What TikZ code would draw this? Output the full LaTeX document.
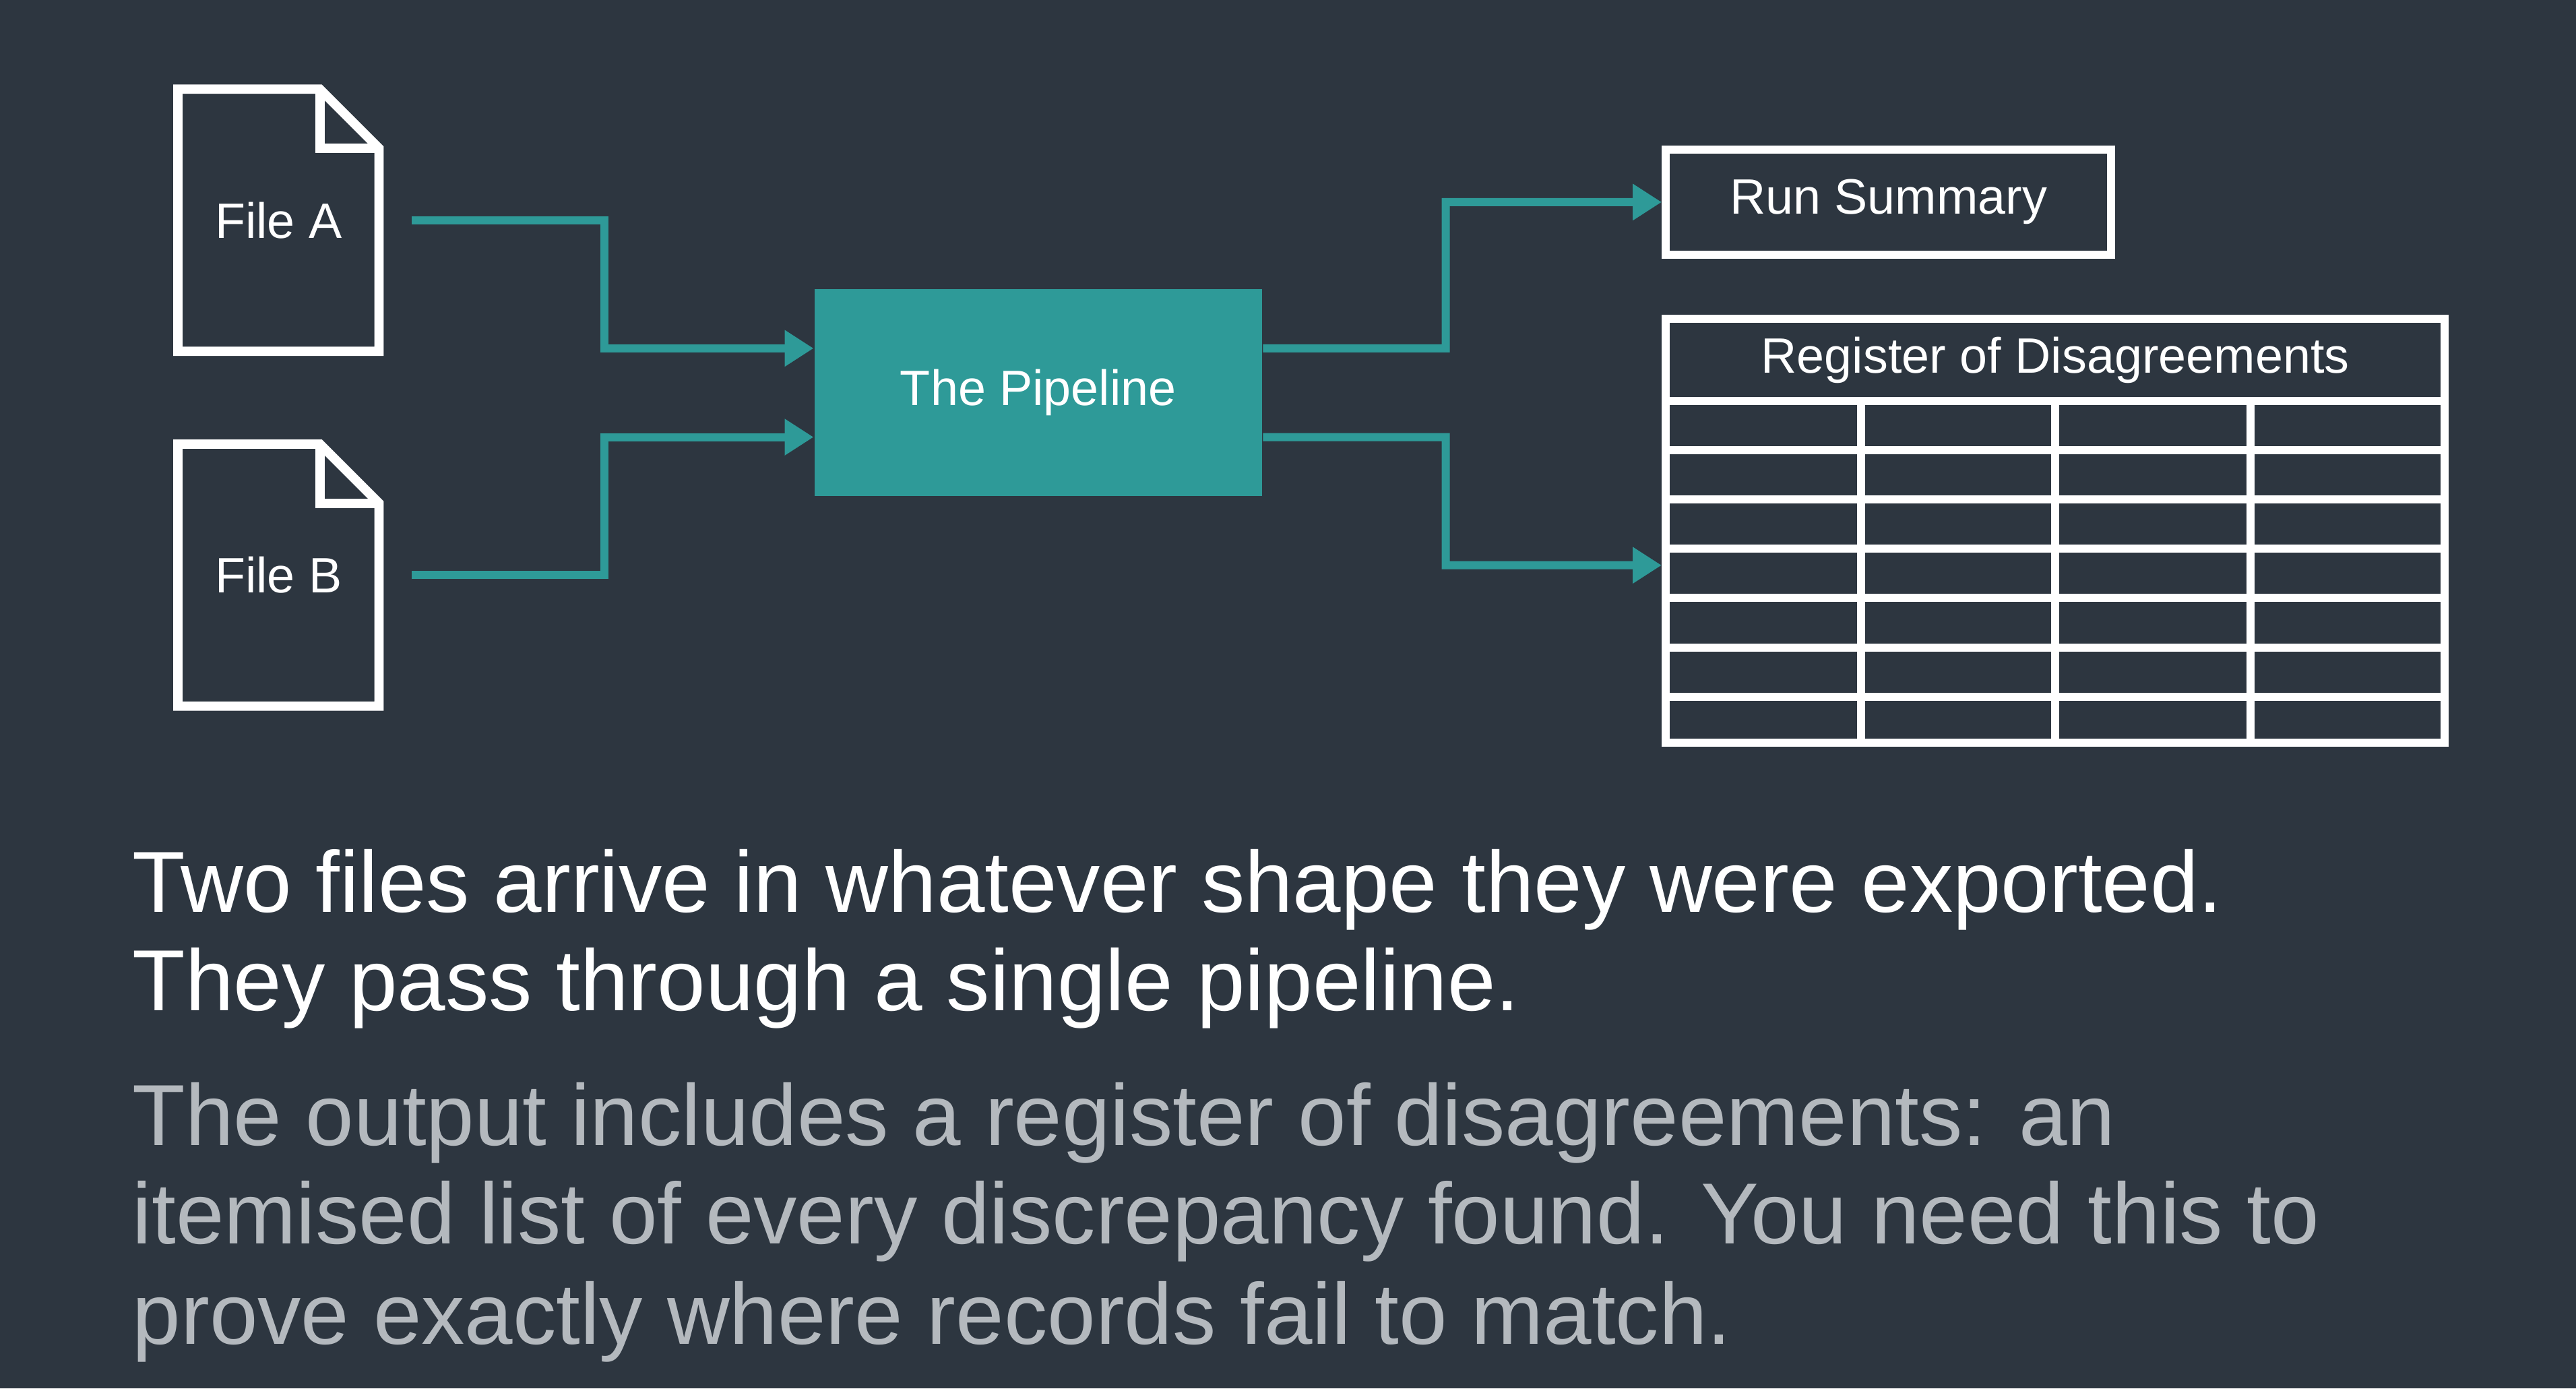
\documentclass[tikz,border=0pt]{standalone}
\usepackage{fontspec}
\setmainfont{Liberation Sans}
\usetikzlibrary{positioning,arrows.meta}
\definecolor{bgc}{HTML}{2D3640}
\definecolor{teal}{HTML}{2E9A98}
\definecolor{greytxt}{HTML}{B4B9BE}
\tikzset{
  doc/.style={minimum width=1.21cm, minimum height=1.58cm, inner sep=0, text=white, font=\fontsize{8.6}{10}\selectfont},
  flow/.style={draw=teal, line width=1.4pt, -{Triangle[length=5pt,width=6pt]}},
  outbox/.style={draw=white, line width=1.4pt, text=white, font=\fontsize{8.6}{10}\selectfont},
  big/.style={anchor=base west, inner sep=0, text=white, font=\fontsize{15}{17}\selectfont},
  small/.style={anchor=base west, inner sep=0, text=greytxt, font=\fontsize{15}{17}\selectfont}
}
\begin{document}
\begin{tikzpicture}[x=0.01cm, y=-0.01cm]
    \fill[bgc] (0,0) rectangle (1568,845);
    \useasboundingbox (0,0) rectangle (1568,845);
    % input files
    \node[doc] (fileA) at (169.5,134) {File A};
    \node[doc] (fileB) at (169.5,350) {File B};
    \foreach \f in {fileA,fileB} {
        \draw[white, line width=1.6pt, line join=miter]
            (\f.south west) -- (\f.north west) -- ([xshift=-0.36cm]\f.north east)
            -- ([yshift=-0.36cm]\f.north east) -- (\f.south east) -- cycle;
        \draw[white, line width=1.6pt]
            ([xshift=-0.36cm]\f.north east) -- ([xshift=-0.36cm,yshift=-0.36cm]\f.north east) -- ([yshift=-0.36cm]\f.north east);
    }
    % pipeline
    \node[fill=teal, minimum width=2.72cm, minimum height=1.26cm, text=white, font=\fontsize{8.6}{10}\selectfont] (pipe) at (632,239) {The Pipeline};
    % outputs
    \node[outbox, minimum width=2.71cm, minimum height=0.64cm] (summary) at (1149.5,123) {Run Summary};
    \node[outbox, minimum width=4.74cm, minimum height=2.58cm, inner sep=0] (register) at (1251,323) {};
    \node[text=white, font=\fontsize{8.6}{10}\selectfont] (regtitle) at (1251,219) {Register of Disagreements};
    \draw[white, line width=1.4pt] (1014,244) -- (1488,244);
    \foreach \y in {274,304,334,364,394,424}
        \draw[white, line width=1.4pt] (1014,\y) -- (1488,\y);
    \foreach \x in {1133,1251,1370}
        \draw[white, line width=1.4pt] (\x,244) -- (\x,452);
    % connectors
    \draw[flow] ([xshift=0.2cm]fileA.east) -- (368,134) |- ([yshift=0.27cm]pipe.west);
    \draw[flow] ([xshift=0.2cm]fileB.east) -- (368,350) |- ([yshift=-0.27cm]pipe.west);
    \draw[flow] ([yshift=0.27cm]pipe.east) -- (880,212) |- (summary.west);
    \draw[flow] ([yshift=-0.27cm]pipe.east) -- (880,266) |- (register.west |- 0,344);
    % caption
    \node[big] (cap1) at (80,555) {Two files arrive in whatever shape they were exported.};
    \node[big] (cap2) at (80,615) {They pass through a single pipeline.};
    \node[small] (note1) at (80,697) {The output includes a register of disagreements: an};
    \node[small] (note2) at (80,757) {itemised list of every discrepancy found. You need this to};
    \node[small] (note3) at (80,818) {prove exactly where records fail to match.};
\end{tikzpicture}
\end{document}
